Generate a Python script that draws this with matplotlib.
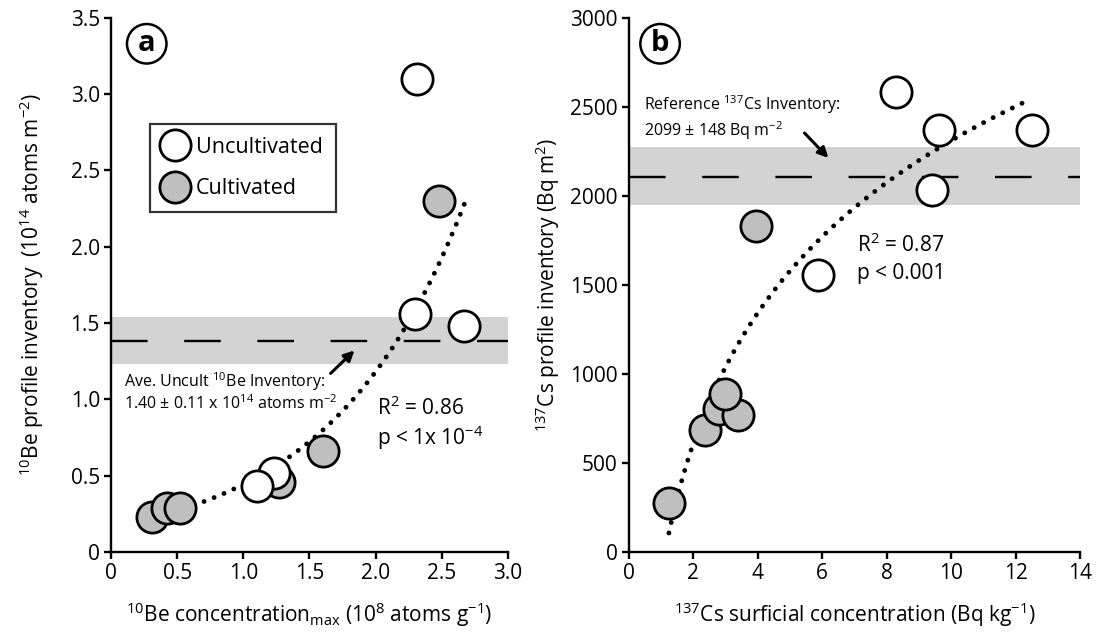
import matplotlib
matplotlib.use("Agg")
import matplotlib.pyplot as plt
import numpy as np

plt.rcParams['font.family'] = ['Open Sans', 'DejaVu Sans']
plt.rcParams['mathtext.fontset'] = 'custom'
plt.rcParams['mathtext.rm'] = 'Open Sans'
plt.rcParams['mathtext.it'] = 'Open Sans:italic'
plt.rcParams['mathtext.bf'] = 'Open Sans:bold'

# panel a - 10Be
be_unc_x = [2.31, 2.30, 2.67, 1.23, 1.10]
be_unc_y = [3.10, 1.56, 1.48, 0.52, 0.43]
be_cul_x = [2.48, 1.60, 1.27, 0.31, 0.42, 0.52]
be_cul_y = [2.30, 0.66, 0.46, 0.23, 0.29, 0.29]
be_ref = 1.38
be_band = [1.23, 1.54]
# exponential fit: y = a*exp(b*x)
be_fit_a, be_fit_b = 0.166, 0.981
be_fit_range = [0.55, 2.67]

# panel b - 137Cs
cs_unc_x = [8.30, 9.63, 9.41, 12.50, 5.88]
cs_unc_y = [2583, 2369, 2032, 2369, 1553]
cs_cul_x = [3.93, 1.24, 2.35, 2.79, 3.37, 2.97]
cs_cul_y = [1829, 276, 687, 805, 771, 889]
cs_ref = 2105
cs_band = [1950, 2275]
# log fit: y = a + b*ln(x)
cs_fit_a, cs_fit_b = -120, 1055
cs_fit_range = [1.24, 12.35]

GRAY = '#bfbfbf'
BAND = '#d3d3d3'
MS = 22.5
MEW = 2.0
FS = 15

fig = plt.figure(figsize=(10.99, 6.37), dpi=100)
axa = fig.add_axes([0.101, 0.1334, 0.3612, 0.839])
axb = fig.add_axes([0.5723, 0.1334, 0.4104, 0.839])


def style_axis(ax):
    for s in ['top', 'right']:
        ax.spines[s].set_visible(False)
    for s in ['left', 'bottom']:
        ax.spines[s].set_linewidth(1.7)
    ax.tick_params(direction='out', length=5, width=1.7, labelsize=FS, pad=3)


def dotted(ax, x, y):
    ax.plot(x, y, color='black', lw=3.5, linestyle=(0, (0.01, 2.2)),
            dash_capstyle='round', zorder=2)


def panel_label(ax, letter, x, y):
    ax.text(x, y, letter, transform=ax.transAxes, fontsize=21, fontweight='bold',
            ha='center', va='center',
            bbox=dict(boxstyle='circle,pad=0.18', fc='white', ec='black', lw=1.8))


def arrow(ax, head, tail):
    ax.annotate('', xy=head, xytext=tail,
                arrowprops=dict(arrowstyle='-|>', color='black', lw=2.2,
                                mutation_scale=15, shrinkA=0, shrinkB=0))


# ---- panel a ----
ax = axa
style_axis(ax)
ax.axhspan(be_band[0], be_band[1], color=BAND, lw=0, zorder=0)
ax.axhline(be_ref, color='black', lw=1.7, dashes=(15.5, 15.5), zorder=1)
xs = np.linspace(be_fit_range[0], be_fit_range[1], 200)
dotted(ax, xs, be_fit_a * np.exp(be_fit_b * xs))
ax.plot(be_cul_x, be_cul_y, 'o', ms=MS, mfc=GRAY, mec='black', mew=MEW,
        zorder=3, label='Cultivated')
ax.plot(be_unc_x, be_unc_y, 'o', ms=MS, mfc='white', mec='black', mew=MEW,
        zorder=4, label='Uncultivated')
ax.set_xlim(0, 3.0)
ax.set_ylim(0, 3.5)
ax.set_xticks(np.arange(0, 3.01, 0.5))
ax.set_xticklabels(['0', '0.5', '1.0', '1.5', '2.0', '2.5', '3.0'])
ax.set_yticks(np.arange(0, 3.51, 0.5))
ax.set_yticklabels(['0', '0.5', '1.0', '1.5', '2.0', '2.5', '3.0', '3.5'])
ax.set_xlabel(r'$\mathregular{^{10}}$Be concentration$\mathregular{_{max}}$ (10$\mathregular{^{8}}$ atoms g$\mathregular{^{-1}}$)',
              fontsize=FS, labelpad=12)
ax.set_ylabel(r'$\mathregular{^{10}}$Be profile inventory  (10$\mathregular{^{14}}$ atoms m$\mathregular{^{-2}}$)',
              fontsize=FS, labelpad=18)
ax.text(0.10, 1.05, 'Ave. Uncult $\\mathregular{^{10}}$Be Inventory:\n'
        '1.40 $\\pm$ 0.11 x 10$\\mathregular{^{14}}$ atoms m$\\mathregular{^{-2}}$',
        fontsize=11.5, va='center', linespacing=1.15)
arrow(ax, (1.84, 1.32), (1.66, 1.17))
ax.text(2.01, 0.94, r'R$\mathregular{^{2}}$ = 0.86', fontsize=15, va='center')
ax.text(2.01, 0.75, r'p < 1x 10$\mathregular{^{-4}}$', fontsize=15, va='center')
h, l = ax.get_legend_handles_labels()
leg = ax.legend(h[::-1], l[::-1], loc='upper left', bbox_to_anchor=(0.098, 0.801),
                borderaxespad=0, fontsize=15.5, frameon=True, fancybox=False,
                handlelength=1.1, handletextpad=0.45, borderpad=0.6, labelspacing=0.95,
                markerscale=1.0)
leg.get_frame().set_edgecolor('black')
leg.get_frame().set_linewidth(1.6)
panel_label(ax, 'a', 0.09, 0.951)

# ---- panel b ----
ax = axb
style_axis(ax)
ax.axhspan(cs_band[0], cs_band[1], color=BAND, lw=0, zorder=0)
ax.axhline(cs_ref, color='black', lw=1.7, dashes=(15.5, 15.5), zorder=1)
xs = np.linspace(cs_fit_range[0], cs_fit_range[1], 200)
dotted(ax, xs, cs_fit_a + cs_fit_b * np.log(xs))
ax.plot(cs_cul_x, cs_cul_y, 'o', ms=MS, mfc=GRAY, mec='black', mew=MEW, zorder=3)
ax.plot(cs_unc_x, cs_unc_y, 'o', ms=MS, mfc='white', mec='black', mew=MEW, zorder=4)
ax.set_xlim(0, 14)
ax.set_ylim(0, 3000)
ax.set_xticks(np.arange(0, 15, 2))
ax.set_yticks(np.arange(0, 3001, 500))
ax.set_xlabel(r'$\mathregular{^{137}}$Cs surficial concentration (Bq kg$\mathregular{^{-1}}$)',
              fontsize=FS, labelpad=12)
ax.set_ylabel(r'$\mathregular{^{137}}$Cs profile inventory (Bq m$\mathregular{^{2}}$)',
              fontsize=FS, labelpad=6)
ax.text(0.46, 2440, 'Reference $\\mathregular{^{137}}$Cs Inventory:\n'
        '2099 $\\pm$ 148 Bq m$\\mathregular{^{-2}}$',
        fontsize=11.5, va='center', linespacing=1.2)
arrow(ax, (6.19, 2212), (5.45, 2352))
ax.text(7.09, 1722, r'R$\mathregular{^{2}}$ = 0.87', fontsize=15, va='center')
ax.text(7.09, 1564, 'p < 0.001', fontsize=15, va='center')
panel_label(ax, 'b', 0.069, 0.951)

fig.savefig('out.png', dpi=100)
